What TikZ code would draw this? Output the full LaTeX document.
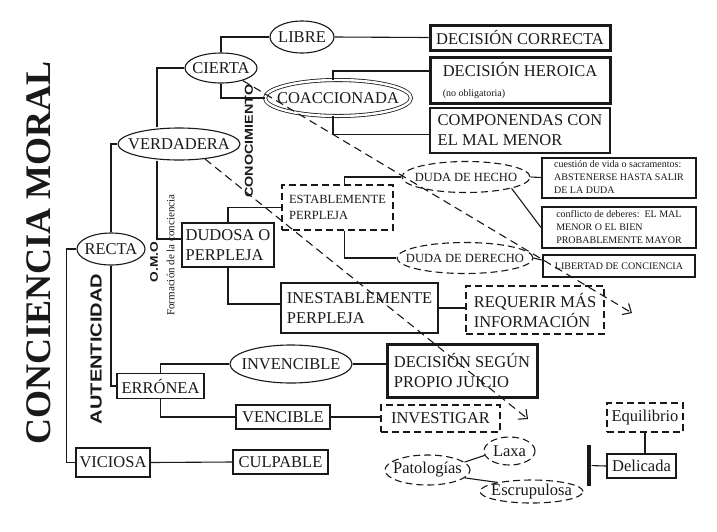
\documentclass[tikz,border=0pt]{standalone}
\usepackage{fontspec}
\setmainfont{Liberation Serif}
\setsansfont{Liberation Sans}
\usetikzlibrary{shapes.geometric, arrows.meta, positioning}
\newcommand{\rotulo}[1]{\scalebox{1.25}[1]{\sffamily\bfseries #1}}

\begin{document}
\begin{tikzpicture}[x=1pt, y=-1pt, font=\fontsize{16.5}{20}\selectfont, line width=1.1pt, color=black!90,
    tam/.style 2 args={minimum width=#1pt, minimum height=#2pt},
    elipse/.style={draw, ellipse, inner xsep=-30pt, inner ysep=-12pt},
    elipd/.style={elipse, dash pattern=on 7pt off 4pt},
    caja/.style={draw, rectangle, inner sep=0pt, align=left, line width=1.4pt},
    cajag/.style={caja, line width=3pt},
    cajad/.style={caja, line width=1.1pt, dash pattern=on 7pt off 4pt},
    chica/.style={font=\fontsize{10}{13}\selectfont},
    media/.style={font=\fontsize{12.5}{16}\selectfont},
    flecha/.style={dash pattern=on 8pt off 5pt, -{Straight Barb[length=7pt, width=13pt]}}]
    \path[use as bounding box, fill=white] (0,0) rectangle (717,531);
    % rotulos
    \node[rotate=90, font=\fontsize{36}{40}\selectfont\bfseries] (titulo) at (38.5,253) {CONCIENCIA MORAL};
    \node[rotate=90, font=\fontsize{16}{18}\selectfont] (autenticidad) at (96,349) {\rotulo{AUTENTICIDAD}};
    \node[rotate=90, font=\fontsize{11.5}{13}\selectfont] (conocimiento) at (249,141) {\rotulo{CONOCIMIENTO}};
    \node[rotate=90, font=\fontsize{11}{13}\selectfont] (omo) at (154,260) {\rotulo{O.M.O.}};
    \node[rotate=90, font=\fontsize{11}{13}\selectfont] (formacion) at (170.5,255) {Formación de la conciencia};
    % nodos
    \node[elipse, tam={68}{32}] (recta) at (111,249) {RECTA};
    \node[elipse, tam={122}{32}] (verdadera) at (179,144) {VERDADERA};
    \node[elipse, tam={72}{30}] (cierta) at (221,68) {CIERTA};
    \node[elipse, tam={64}{32}] (libre) at (302,37) {LIBRE};
    \node[elipse, double, double distance=2.4pt, line width=0.8pt, tam={146}{36}] (coaccionada) at (338,98) {COACCIONADA};
    \node[cajag, tam={180}{25}] (correcta) at (520,37.5) {DECISIÓN CORRECTA};
    \node[cajag, tam={180}{46}] (heroica) at (520,80) {DECISIÓN HEROICA\\{\fontsize{10}{12}\selectfont(no obligatoria)}};
    \node[caja, line width=2pt, tam={180}{45}] (componendas) at (520,130.5) {COMPONENDAS CON\\EL MAL MENOR};
    \node[caja, tam={92}{44}] (dudosa) at (228,245) {DUDOSA O\\PERPLEJA};
    \node[cajad, media, tam={111}{45}] (establemente) at (337.5,207.5) {ESTABLEMENTE\\PERPLEJA};
    \node[elipd, media, tam={128}{31}] (hecho) at (466,177) {DUDA DE HECHO};
    \node[elipd, media, tam={136}{31}] (derecho) at (465,258) {DUDA DE DERECHO};
    \node[caja, chica, line width=2pt, tam={154}{40}] (vidasac) at (619,177.5) {cuestión de vida o sacramentos:\\ABSTENERSE HASTA SALIR\\DE LA DUDA};
    \node[caja, chica, line width=2pt, tam={154}{41}] (conflicto) at (619,227.5) {conflicto de deberes:\ \ EL MAL\\MENOR O EL BIEN\\PROBABLEMENTE MAYOR};
    \node[caja, chica, line width=2.4pt, tam={152}{22}] (libertad) at (619,266) {LIBERTAD DE CONCIENCIA};
    \node[caja, tam={157}{50}] (inestablemente) at (359.5,308) {INESTABLEMENTE\\PERPLEJA};
    \node[cajad, tam={138}{48}] (requerir) at (535,310) {REQUERIR MÁS\\INFORMACIÓN};
    \node[caja, tam={87}{25}] (erronea) at (160.5,386) {ERRÓNEA};
    \node[elipse, tam={122}{38}] (invencible) at (291,364) {INVENCIBLE};
    \node[cajag, tam={150}{53}] (segun) at (462,370.5) {DECISIÓN SEGÚN\\PROPIO JUICIO};
    \node[caja, tam={94}{24}] (vencible) at (283,417) {VENCIBLE};
    \node[cajad, tam={119}{27}] (investigar) at (440.5,418.5) {INVESTIGAR};
    \node[caja, tam={74}{29}] (viciosa) at (113,462.5) {VICIOSA};
    \node[caja, tam={95}{24}] (culpable) at (280.5,462) {CULPABLE};
    \node[elipd, tam={85}{30}] (patologias) at (427.5,470) {Patologías};
    \node[elipd, tam={51}{28}] (laxa) at (509.5,451) {Laxa};
    \node[elipd, tam={103}{23}] (escrupulosa) at (531.5,491.5) {Escrupulosa};
    \node[fill, inner sep=0pt, tam={4}{41}] (barra) at (589,465.5) {};
    \node[caja, line width=2.4pt, tam={69}{24}] (delicada) at (641.5,466) {Delicada};
    \node[cajad, tam={76}{29}] (equilibrio) at (645,417.5) {Equilibrio};
    % conexiones
    \draw (recta.north) |- (verdadera.west);
    \draw (recta.south) |- (erronea.west);
    \draw (recta.west) -- ++(-10,0) |- (viciosa.west);
    \draw (cierta.west) -| ([xshift=-22pt]verdadera.north);
    \draw ([xshift=-22pt]verdadera.south) |- ([yshift=6pt]dudosa.west);
    \draw (cierta.north) |- (libre.west);
    \draw (cierta.south) |- (coaccionada.west);
    \draw (libre.east) -- (correcta.west);
    \draw ([xshift=-5pt]coaccionada.north) |- ([yshift=9pt]heroica.west);
    \draw ([xshift=-5pt]coaccionada.south) |- ([yshift=-4pt]componendas.west);
    \draw (dudosa.north) |- (establemente.west);
    \draw (dudosa.south) |- ([yshift=4pt]inestablemente.west);
    \draw ([xshift=7pt]establemente.north) |- (hecho.west);
    \draw ([xshift=7pt]establemente.south) |- (derecho.west);
    \draw (hecho.east) -- (vidasac.west);
    \draw (hecho.-14) -- (conflicto.west);
    \draw (derecho.east) -- ([yshift=6pt]libertad.west);
    \draw (inestablemente.east) -- (inestablemente.east -| requerir.west);
    \draw (erronea.north) |- (invencible.west);
    \draw (erronea.south) |- (vencible.west);
    \draw (invencible.east) -- (invencible.east -| segun.west);
    \draw (vencible.east) -- (vencible.east -| investigar.west);
    \draw (viciosa.east) -- (culpable.west);
    \draw (patologias.12) -- (laxa.190);
    \draw (patologias.-12) -- (escrupulosa.165);
    \draw (barra) -- (delicada.west);
    \draw (equilibrio.south) -- (equilibrio.south |- delicada.north);
    % flechas de conocimiento
    \coordinate (fin1) at (632,313);
    \coordinate (fin2) at (528,419);
    \draw[flecha] (cierta.-30) -- (fin1);
    \draw[flecha] (verdadera.-30) -- (fin2);
\end{tikzpicture}
\end{document}
